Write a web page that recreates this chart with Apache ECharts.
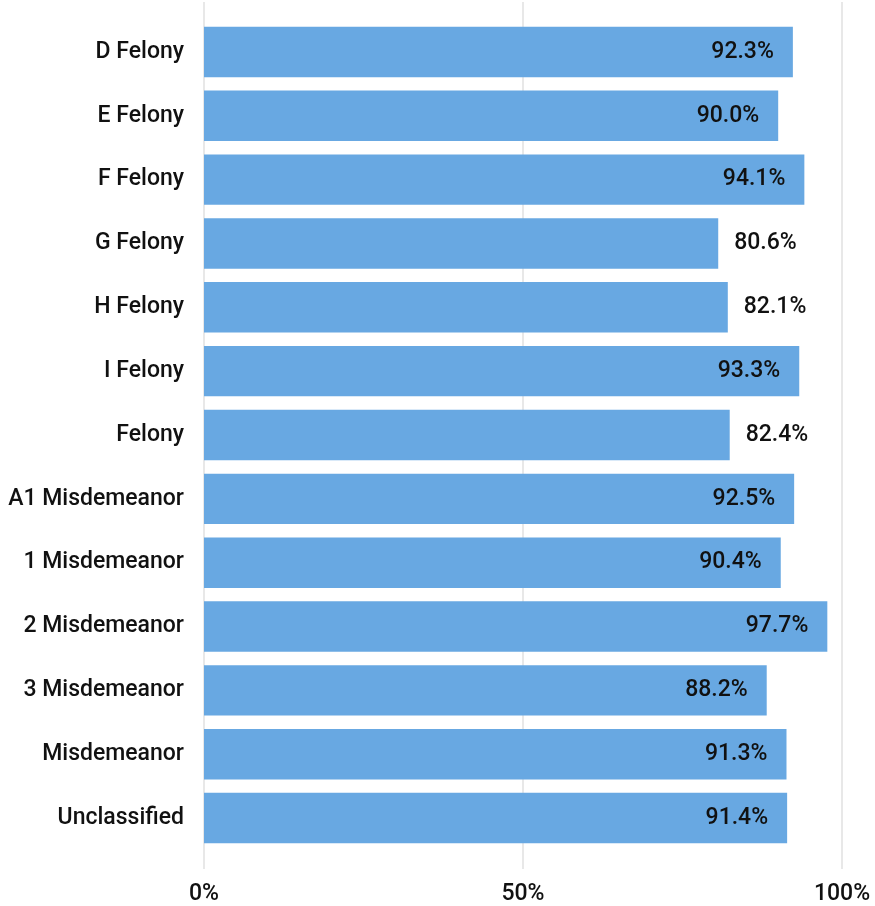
<!DOCTYPE html>
<html>
<head>
<meta charset="utf-8">
<script src="https://cdn.jsdelivr.net/npm/echarts@6/dist/echarts.min.js"></script>
<style>
  html, body { margin: 0; padding: 0; background: #fff; }
  #chart { width: 875px; height: 906px; }
</style>
</head>
<body>
<div id="chart"></div>
<script>
const categories = [
  'D Felony', 'E Felony', 'F Felony', 'G Felony', 'H Felony', 'I Felony', 'Felony',
  'A1 Misdemeanor', '1 Misdemeanor', '2 Misdemeanor', '3 Misdemeanor', 'Misdemeanor', 'Unclassified'
];
const values = [92.3, 90.0, 94.1, 80.6, 82.1, 93.3, 82.4, 92.5, 90.4, 97.7, 88.2, 91.3, 91.4];
const xTicks = [0, 50, 100];

const FONT = 'Roboto';
const FS = 23;
const barColor = '#68a8e2';
const textColor = '#111111';

const seriesData = values.map(v => {
  const outside = v < 85;
  return {
    value: v,
    label: outside
      ? { position: 'right', distance: 16 }
      : { position: 'insideRight', distance: 19 }
  };
});

const chart = echarts.init(document.getElementById('chart'), null, { renderer: 'canvas' });
chart.setOption({
  animation: false,
  backgroundColor: '#ffffff',
  grid: [
    { left: 204, right: 33, top: 2, bottom: 36, containLabel: false },
    { left: 204, right: 33, top: 20, bottom: 56, containLabel: false }
  ],
  xAxis: [
    {
      gridIndex: 0,
      type: 'value',
      min: xTicks[0],
      max: xTicks[xTicks.length - 1],
      interval: xTicks[1] - xTicks[0],
      axisLine: { show: false },
      axisTick: { show: false },
      splitLine: { show: true, lineStyle: { color: '#e8e8e8', width: 2 } },
      axisLabel: {
        formatter: '{value}%',
        margin: 14,
        fontFamily: FONT,
        fontSize: FS,
        fontWeight: 500,
        color: textColor
      }
    },
    {
      gridIndex: 1,
      type: 'value',
      min: xTicks[0],
      max: xTicks[xTicks.length - 1],
      show: false
    }
  ],
  yAxis: [
    {
      gridIndex: 0,
      type: 'value',
      show: false
    },
    {
      gridIndex: 1,
      type: 'category',
      data: categories,
      inverse: true,
      axisLine: { show: false },
      axisTick: { show: false },
      splitLine: { show: false },
      axisLabel: {
        margin: 20,
        padding: [6, 0, 0, 0],
        fontFamily: FONT,
        fontSize: FS,
        fontWeight: 500,
        color: textColor
      }
    }
  ],
  series: [
    {
      type: 'bar',
      xAxisIndex: 1,
      yAxisIndex: 1,
      data: seriesData,
      barCategoryGap: '21%',
      itemStyle: { color: barColor },
      label: {
        show: true,
        formatter: p => p.value.toFixed(1) + '%',
        padding: [6, 0, 0, 0],
        fontFamily: FONT,
        fontSize: FS,
        fontWeight: 500,
        color: textColor
      }
    }
  ]
});
</script>
</body>
</html>
